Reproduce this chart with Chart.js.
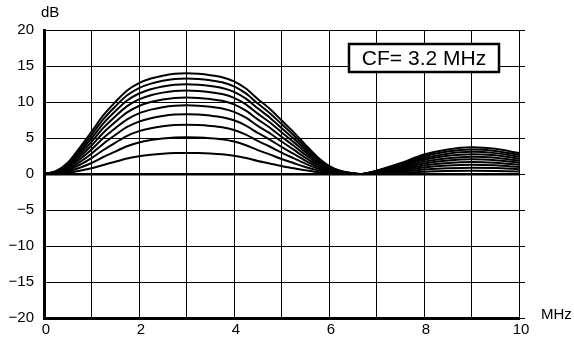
<!DOCTYPE html>
<html>
<head>
<meta charset="utf-8">
<script src="https://cdn.jsdelivr.net/npm/chart.js@4"></script>
<style>
  html, body { margin: 0; padding: 0; background: #fff; }
  #wrap { width: 574px; height: 340px; position: relative; }
</style>
</head>
<body>
<div id="wrap"><canvas id="c" width="574" height="340"></canvas></div>
<script>
// Frequency samples (MHz)
const freqMHz = [0, 0.25, 0.5, 0.75, 1, 1.25, 1.5, 1.75, 2, 2.25, 2.5, 2.75, 3, 3.25, 3.5, 3.75, 4, 4.25, 4.5, 4.75, 5, 5.25, 5.5, 5.75, 6, 6.25, 6.5, 6.7, 7, 7.5, 8, 8.5, 9, 9.5, 10];
// Gain curves (dB), lowest to highest boost
const gain1  = [0, 0.04, 0.17, 0.44, 0.80, 1.26, 1.70, 2.14, 2.46, 2.67, 2.81, 2.90, 2.92, 2.90, 2.84, 2.73, 2.54, 2.23, 1.81, 1.47, 1.11, 0.80, 0.51, 0.27, 0.12, 0.04, 0.01, 0, 0.05, 0.16, 0.31, 0.41, 0.45, 0.42, 0.34];
const gain2  = [0, 0.08, 0.34, 0.86, 1.53, 2.36, 3.12, 3.86, 4.38, 4.71, 4.93, 5.07, 5.11, 5.07, 4.97, 4.81, 4.51, 4.00, 3.31, 2.72, 2.09, 1.53, 0.98, 0.54, 0.24, 0.08, 0.02, 0, 0.10, 0.32, 0.61, 0.80, 0.88, 0.82, 0.66];
const gain3  = [0, 0.12, 0.51, 1.26, 2.20, 3.33, 4.34, 5.30, 5.95, 6.36, 6.63, 6.80, 6.85, 6.80, 6.68, 6.49, 6.11, 5.46, 4.59, 3.82, 2.97, 2.20, 1.44, 0.80, 0.36, 0.12, 0.03, 0, 0.15, 0.48, 0.90, 1.17, 1.29, 1.20, 0.98];
const gain4  = [0, 0.17, 0.67, 1.64, 2.82, 4.21, 5.41, 6.53, 7.28, 7.75, 8.06, 8.25, 8.30, 8.25, 8.11, 7.89, 7.46, 6.72, 5.70, 4.79, 3.77, 2.82, 1.87, 1.05, 0.47, 0.17, 0.04, 0, 0.19, 0.63, 1.18, 1.53, 1.68, 1.57, 1.28];
const gain5  = [0, 0.21, 0.83, 2.01, 3.41, 5.01, 6.36, 7.60, 8.43, 8.94, 9.28, 9.48, 9.54, 9.48, 9.34, 9.10, 8.63, 7.82, 6.69, 5.67, 4.51, 3.41, 2.28, 1.29, 0.59, 0.21, 0.05, 0, 0.24, 0.78, 1.45, 1.87, 2.05, 1.92, 1.57];
const gain6  = [0, 0.25, 0.98, 2.36, 3.95, 5.74, 7.22, 8.56, 9.45, 9.99, 10.35, 10.57, 10.63, 10.57, 10.41, 10.16, 9.66, 8.79, 7.58, 6.46, 5.18, 3.95, 2.67, 1.53, 0.70, 0.25, 0.06, 0, 0.29, 0.93, 1.72, 2.20, 2.41, 2.26, 1.85];
const gain7  = [0, 0.29, 1.14, 2.70, 4.46, 6.41, 8.00, 9.43, 10.36, 10.93, 11.30, 11.53, 11.60, 11.53, 11.37, 11.10, 10.58, 9.67, 8.38, 7.19, 5.81, 4.46, 3.05, 1.76, 0.81, 0.29, 0.07, 0, 0.33, 1.07, 1.97, 2.52, 2.75, 2.59, 2.13];
const gain8  = [0, 0.33, 1.29, 3.02, 4.95, 7.04, 8.72, 10.21, 11.18, 11.78, 12.16, 12.40, 12.47, 12.40, 12.23, 11.95, 11.41, 10.46, 9.12, 7.86, 6.39, 4.95, 3.41, 1.98, 0.92, 0.33, 0.08, 0, 0.38, 1.22, 2.22, 2.82, 3.08, 2.90, 2.39];
const gain9  = [0, 0.37, 1.44, 3.33, 5.41, 7.62, 9.38, 10.93, 11.94, 12.55, 12.94, 13.19, 13.26, 13.19, 13.01, 12.73, 12.17, 11.19, 9.79, 8.48, 6.94, 5.41, 3.75, 2.20, 1.03, 0.37, 0.09, 0, 0.43, 1.36, 2.46, 3.12, 3.40, 3.21, 2.65];
const gain10 = [0, 0.41, 1.58, 3.64, 5.85, 8.16, 9.99, 11.60, 12.63, 13.26, 13.66, 13.91, 13.98, 13.91, 13.73, 13.44, 12.87, 11.87, 10.42, 9.07, 7.46, 5.85, 4.08, 2.41, 1.14, 0.41, 0.10, 0, 0.47, 1.50, 2.70, 3.41, 3.71, 3.50, 2.90];
// Axis tick labels / annotations
const xTickLabels = ['0', '2', '4', '6', '8', '10'];
const yTickValues = [-20, -15, -10, -5, 0, 5, 10, 15, 20];
const yUnit = 'dB';
const xUnit = 'MHz';
const noteText = 'CF= 3.2 MHz';

const FONT = "'Liberation Sans', Arial, Helvetica, sans-serif";
const curves = [gain1, gain2, gain3, gain4, gain5, gain6, gain7, gain8, gain9, gain10];
const datasets = curves.map((g, i) => ({
  label: 'curve ' + (i + 1),
  data: freqMHz.map((f, j) => ({ x: f, y: g[j] })),
  borderColor: '#000',
  borderWidth: 2,
  pointRadius: 0,
  fill: false,
  tension: 0.3
}));

const extras = {
  id: 'extras',
  afterDatasetsDraw(chart) {
    const { ctx, chartArea: a } = chart;
    ctx.save();
    // annotation box
    const bx = a.left + 305, by = a.top + 14, bw = 150, bh = 28;
    ctx.fillStyle = '#fff';
    ctx.fillRect(bx, by, bw, bh);
    ctx.lineWidth = 2.5;
    ctx.strokeStyle = '#000';
    ctx.strokeRect(bx, by, bw, bh);
    ctx.fillStyle = '#000';
    ctx.font = '21px ' + FONT;
    ctx.textAlign = 'center';
    ctx.textBaseline = 'middle';
    ctx.fillText(noteText, bx + bw / 2, by + bh / 2 + 1);
    // unit labels
    ctx.font = '15px ' + FONT;
    ctx.textAlign = 'left';
    ctx.fillText(yUnit, a.left - 3, a.top - 17);
    ctx.fillText(xUnit, a.right + 22, a.bottom - 3);
    ctx.restore();
  }
};

new Chart(document.getElementById('c'), {
  type: 'line',
  data: { datasets },
  options: {
    responsive: false,
    animation: false,
    layout: { padding: { top: 30, bottom: 0, left: 0, right: 0 } },
    plugins: { legend: { display: false }, tooltip: { enabled: false } },
    scales: {
      x: {
        type: 'linear',
        min: 0, max: 10,
        afterFit(s) { s.height = 22; },
        border: { display: true, color: '#000', width: 3 },
        grid: { color: '#000', lineWidth: 1, drawTicks: false },
        ticks: {
          stepSize: 1,
          autoSkip: false,
          maxRotation: 0,
          padding: 3,
          labelOffset: 2,
          color: '#000',
          font: { family: FONT, size: 15 },
          callback: v => (v % 2 === 0 ? xTickLabels[v / 2] : '')
        }
      },
      y: {
        min: -20, max: 20,
        afterFit(s) { s.width = 44; },
        afterBuildTicks(s) { s.ticks = yTickValues.map(v => ({ value: v })); },
        border: { display: true, color: '#000', width: 3 },
        grid: {
          color: '#000',
          drawTicks: false,
          lineWidth: c => (c.tick && c.tick.value === 0 ? 2.5 : 1)
        },
        ticks: {
          padding: 10,
          color: '#000',
          font: { family: FONT, size: 15 },
          callback: v => (v < 0 ? '\u2212' + Math.abs(v) : String(v))
        }
      },
      y2: {
        position: 'right',
        min: -20, max: 20,
        afterFit(s) { s.width = 55; },
        afterBuildTicks(s) { s.ticks = yTickValues.map(v => ({ value: v })); },
        border: { display: true, color: '#000', width: 1 },
        grid: { color: '#000', lineWidth: 1, drawOnChartArea: false, drawTicks: true, tickLength: 6 },
        ticks: { display: false }
      }
    }
  },
  plugins: [extras]
});
</script>
</body>
</html>
